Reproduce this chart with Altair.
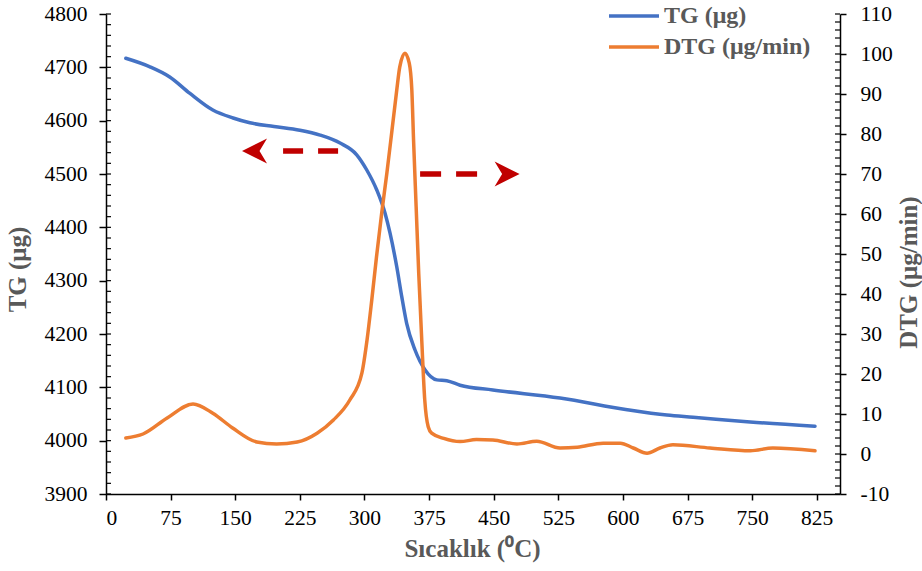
import altair as alt
import pandas as pd

# ---- data ----
temp_tg = [23, 51, 74, 97.5, 124, 147.5, 167, 195, 225, 248.5, 271.7, 291, 302.7, 314.3, 324,
           329.7, 337.5, 343.3, 349, 358.7, 370.4, 384, 395.6, 411, 449, 527, 605, 651,
           681.5, 747.7, 823]
tg_values = [4717, 4701, 4682, 4651, 4620, 4605, 4596, 4589, 4582, 4573, 4558, 4536, 4507.5, 4470,
             4426, 4389, 4326, 4270, 4220, 4170, 4132.5, 4114, 4112.5, 4104, 4095, 4080, 4058,
             4048, 4044, 4035, 4027]

temp_dtg = [23, 43, 71, 101, 124, 147, 175, 198, 222, 245, 264, 283, 297, 303, 308.5, 314, 320,
            326, 332, 337.5, 341, 347, 352, 355, 357, 360, 363, 366.5, 370, 374, 378, 392, 411,
            430, 449, 477, 500, 527, 547, 577, 597, 612, 628, 643, 658, 701, 748, 774, 823]
dtg_values = [4.0, 5.0, 9.0, 12.5, 10.2, 6.5, 3.0, 2.5, 3.0, 5.2, 8.5, 13.5, 20.2, 28.5, 38.5,
              49.3, 60.2, 70.2, 81, 91, 96.8, 100.2, 97.7, 91, 78.5, 61.8, 45.2, 28.5, 13.5, 6.8,
              5.2, 3.9, 3.1, 3.6, 3.5, 2.5, 3.2, 1.5, 1.7, 2.7, 2.7, 1.5, 0.2, 1.5, 2.3, 1.5, 0.8,
              1.5, 0.8]

x_ticks = list(range(0, 826, 75))
tg_ticks = list(range(3900, 4801, 100))
dtg_ticks = list(range(-10, 111, 10))
tg_minor = list(range(3900, 4801, 20))
dtg_minor = list(range(-10, 111, 2))

series_names = ["TG (μg)", "DTG (μg/min)"]
series_colors = ["#4472C4", "#ED7D31"]

# annotation arrows (data coordinates)
arrow_tg_start = [269.4]
arrow_tg_end = [189.5]
arrow_tg_head = [172.4]
arrow_tg_level = [4543]
arrow_dtg_start = [364.6]
arrow_dtg_end = [445.8]
arrow_dtg_head = [465.6]
arrow_dtg_level = [70]

# ---- tables ----
df_tg = pd.DataFrame({"T": temp_tg, "TG": tg_values, "series": series_names[0]})
df_dtg = pd.DataFrame({"T": temp_dtg, "DTG": dtg_values, "series": series_names[1]})
df_tg_minor = pd.DataFrame({"TG": tg_minor})
df_dtg_minor = pd.DataFrame({"DTG": dtg_minor})
df_arrow_tg = pd.DataFrame({"T": arrow_tg_start, "T2": arrow_tg_end, "H": arrow_tg_head, "TG": arrow_tg_level})
df_arrow_dtg = pd.DataFrame({"T": arrow_dtg_start, "T2": arrow_dtg_end, "H": arrow_dtg_head, "DTG": arrow_dtg_level})

FONT = "Liberation Serif"
W, H = 734, 480
ARROW = "#C00000"

x_scale = alt.Scale(domain=[0, 852], nice=False, zero=False)
tg_scale = alt.Scale(domain=[3900, 4800], nice=False, zero=False)
dtg_scale = alt.Scale(domain=[-10, 110], nice=False, zero=False)

x_axis = alt.Axis(values=x_ticks, title="Sıcaklık (⁰C)", tickSize=6, labelPadding=7,
                  labelExpr="'' + datum.value",
                  titleX=366, titleY=54, titleBaseline="middle", titleAlign="center")
tg_axis = alt.Axis(orient="left", values=tg_ticks, title="TG (μg)", tickSize=7, labelPadding=12,
                   labelExpr="'' + datum.value",
                   titleX=-89, titleY=255, titleAngle=270, titleAlign="center", titleBaseline="middle")
dtg_axis = alt.Axis(orient="right", values=dtg_ticks, title="DTG (μg/min)", tickSize=6, labelPadding=14,
                    labelExpr="'' + datum.value",
                    titleX=68, titleY=258, titleAngle=270, titleAlign="center", titleBaseline="middle")


def xenc(field):
    return alt.X(field, type="quantitative", scale=x_scale, axis=x_axis, title="Sıcaklık (⁰C)")


def ytg():
    return alt.Y("TG", type="quantitative", scale=tg_scale, axis=tg_axis, title="TG (μg)")


def ydtg():
    return alt.Y("DTG", type="quantitative", scale=dtg_scale, axis=dtg_axis, title="DTG (μg/min)")


color = alt.Color(
    "series:N",
    title=None,
    scale=alt.Scale(domain=series_names, range=series_colors),
    legend=alt.Legend(
        orient="none", legendX=516, legendY=-10, direction="vertical",
        symbolType="M-2.5,0H2.5", symbolSize=400, symbolStrokeWidth=3.5,
        labelOffset=18, labelFont=FONT, labelFontSize=24, labelFontWeight="bold",
        labelColor="#595959", rowPadding=7, padding=0,
    ),
)

tg_line = alt.Chart(df_tg).mark_line(strokeWidth=3.5, interpolate="monotone", strokeCap="round").encode(
    x=xenc("T"), y=ytg(), color=color,
)

tg_minor_ticks = alt.Chart(df_tg_minor).mark_rule(color="black", strokeWidth=1.2).encode(
    y=ytg(), x=alt.value(0), x2=alt.value(5),
)

arrow_tg_line = alt.Chart(df_arrow_tg).mark_rule(color=ARROW, strokeWidth=5.5, strokeDash=[20, 15]).encode(
    x=xenc("T"), x2="T2:Q", y=ytg(),
)
arrow_tg_head_mark = alt.Chart(df_arrow_tg).mark_point(
    shape="M-1,0L1,-1L0.4,0L1,1Z", filled=True, opacity=1, size=625, color=ARROW, strokeWidth=0
).encode(x=xenc("H"), y=ytg())

left = alt.layer(tg_minor_ticks, arrow_tg_line, arrow_tg_head_mark, tg_line)

dtg_line = alt.Chart(df_dtg).mark_line(strokeWidth=3.5, interpolate="monotone", strokeCap="round").encode(
    x=xenc("T"), y=ydtg(), color=color,
)

dtg_minor_ticks = alt.Chart(df_dtg_minor).mark_rule(color="black", strokeWidth=1.2).encode(
    y=ydtg(), x=alt.value(W - 5), x2=alt.value(W),
)

arrow_dtg_line = alt.Chart(df_arrow_dtg).mark_rule(color=ARROW, strokeWidth=5.5, strokeDash=[21, 15]).encode(
    x=xenc("T"), x2="T2:Q", y=ydtg(),
)
arrow_dtg_head_mark = alt.Chart(df_arrow_dtg).mark_point(
    shape="M1,0L-1,-1L-0.4,0L-1,1Z", filled=True, opacity=1, size=625, color=ARROW, strokeWidth=0
).encode(x=xenc("H"), y=ydtg())

right = alt.layer(dtg_minor_ticks, arrow_dtg_line, arrow_dtg_head_mark, dtg_line)

chart = alt.layer(left, right).resolve_scale(y="independent").properties(
    width=W, height=H,
    autosize=alt.AutoSizeParams(type="none"),
    padding={"left": 106, "top": 14, "right": 82, "bottom": 77},
    background="white",
).configure_view(strokeWidth=0).configure_axis(
    labelFont=FONT, titleFont=FONT, labelFontSize=21.5, titleFontSize=25,
    labelColor="#000000", titleColor="#595959", titleFontWeight="bold",
    domainColor="#000000", tickColor="#000000", domainWidth=1.5, tickWidth=1.5, grid=False,
)

chart.save("out.html", embed_options={"renderer": "svg", "actions": False})
